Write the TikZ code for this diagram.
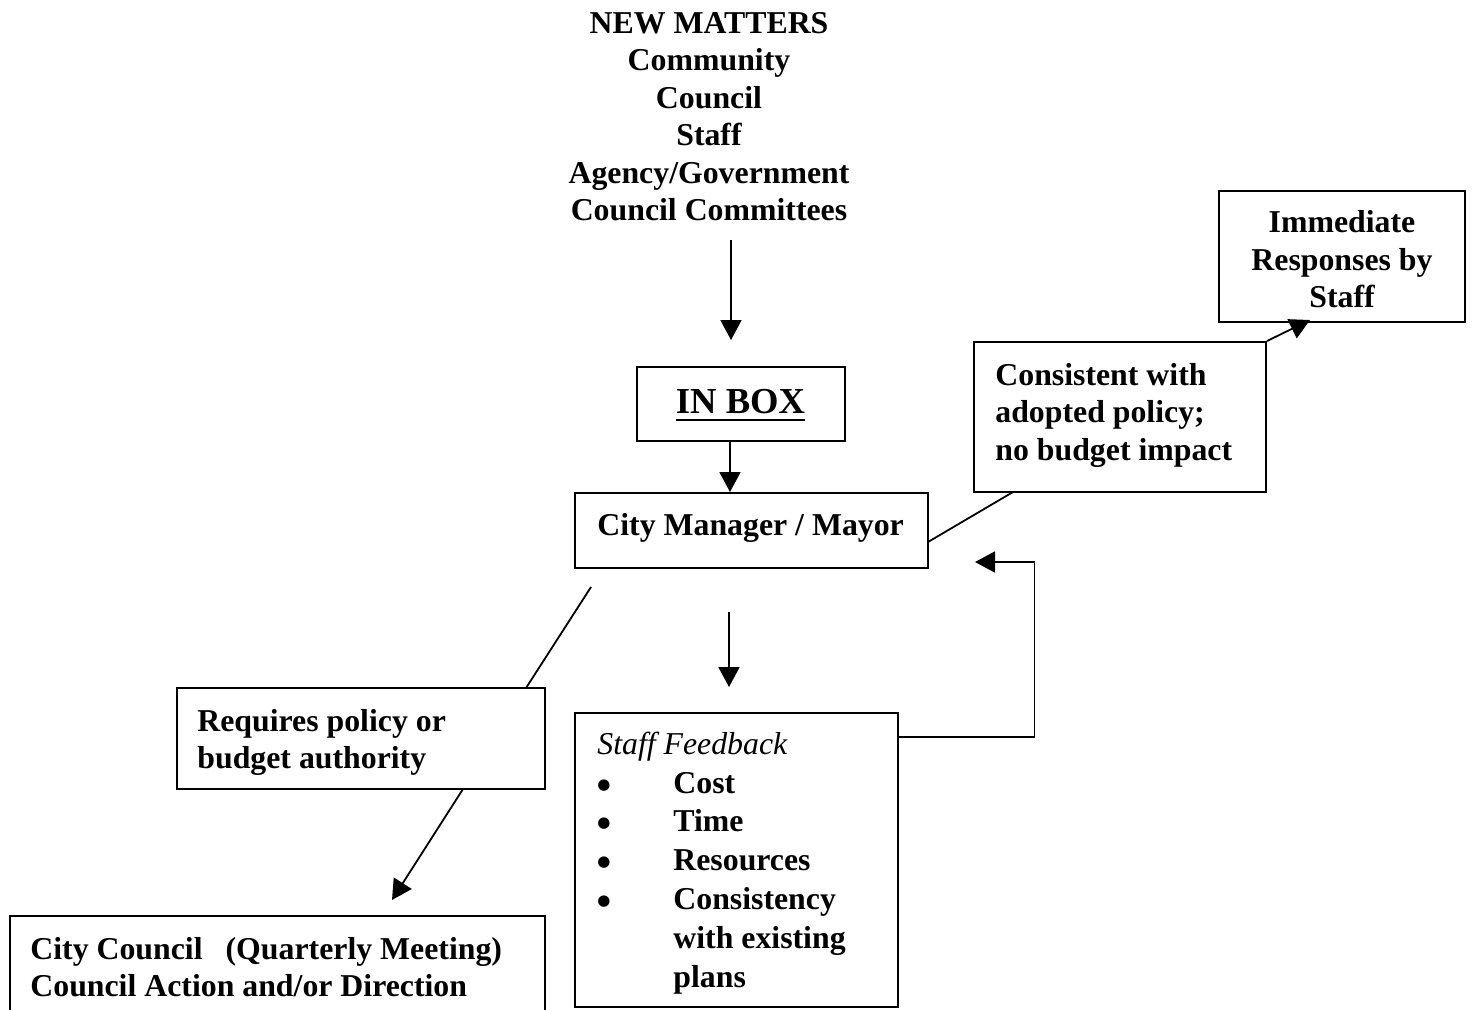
\documentclass[tikz,border=0pt]{standalone}
\usepackage{fontspec}
\setmainfont{Liberation Serif}
\newfontfamily\symfont{DejaVu Sans}
\newcommand{\blt}{\makebox[38pt][l]{\raisebox{2pt}{\fontsize{7.5}{8}\selectfont\symfont ●}}}
\usetikzlibrary{arrows.meta,fit}
\begin{document}
\begin{tikzpicture}[x=0.5pt,y=-0.5pt,
  box/.style={draw, line width=1pt, inner sep=0pt},
  txt/.style={inner sep=0pt, font=\fontsize{15.9}{18.7}\selectfont\bfseries},
  conn/.style={line width=0.9pt},
  arr/.style={conn, -{Triangle[length=10pt,width=10.5pt]}}]
\clip (0,0) rectangle (1473,1009);
\fill[white] (0,0) rectangle (1473,1009);

% ---- boxes ----
\node[box, fit={(1219,191) (1465,322)}] (imm) {};
\node[box, fit={(974,342) (1266,492)}] (con) {};
\node[box, fit={(637,367) (845,441)}] (inb) {};
\node[box, fit={(575,493) (928,568)}] (cm) {};
\node[box, fit={(177,688) (545,789)}] (req) {};
\node[box, fit={(10,916) (545,1100)}] (cc) {};
\node[box, fit={(575,713) (898,1007)}] (sf) {};

% ---- texts ----
\node[txt, anchor=north, align=center] (nm) at (709,12)
  {NEW MATTERS\\Community\\Council\\Staff\\Agency/Government\\Council Committees};
\node[txt, anchor=north, align=center] (immt) at (1342,210.5)
  {Immediate\\Responses by\\Staff};
\node[txt, anchor=north west, align=left] (cont) at (995,363)
  {Consistent with\\adopted policy;\\no budget impact};
\node[txt, anchor=base, font=\fontsize{18.3}{22}\selectfont\bfseries] (inbt) at (740.5,413.3) {IN BOX};
\draw[line width=1pt] ([yshift=-3.3pt]inbt.base west) -- ([yshift=-3.3pt]inbt.base east);
\node[txt, anchor=base west] (cmt) at (597,535.5) {City Manager / Mayor};
\node[txt, anchor=north west, align=left] (reqt) at (197,709)
  {Requires policy or\\budget authority};
\node[txt, anchor=north west, align=left] (cct) at (30,937)
  {City Council\hspace{11.5pt}(Quarterly Meeting)\\Council Action and/or Direction};
\node[txt, anchor=north west, align=left, font=\fontsize{15.9}{19.4}\selectfont] (sft) at (597,731.5)
  {\textit{Staff Feedback}\\
   \blt\textbf{Cost}\\
   \blt\textbf{Time}\\
   \blt\textbf{Resources}\\
   \blt\textbf{Consistency}\\
   \hspace*{38pt}\textbf{with existing}\\
   \hspace*{38pt}\textbf{plans}};

% ---- connector end points ----
\coordinate (a1s) at (731,240);
\coordinate (a1e) at (731,340);
\coordinate (cx) at (730,0);
\coordinate (cmr) at (928,542);
\coordinate (conb) at (1013,492);
\coordinate (immb) at (1310,320);
\coordinate (a2s) at (729,612);
\coordinate (a2e) at (729,687);
\coordinate (fbs) at (898,737);
\coordinate (fbc) at (1034.5,562);
\coordinate (fbe) at (975,562);
\coordinate (rqs) at (591,587);
\coordinate (rqe) at (526,688);
\coordinate (ccs) at (463,789);
\coordinate (cce) at (392,900);

% ---- connectors ----
\draw[arr] (a1s) -- (a1e);
\draw[arr] (inb.south -| cx) -- (cm.north -| cx);
\draw[conn] (cmr) -- (conb);
\draw[arr] (con.north east) -- (immb);
\draw[arr] (a2s) -- (a2e);
\draw[arr] (fbs) -| (fbc) -- (fbe);
\draw[conn] (rqs) -- (rqe);
\draw[arr] (ccs) -- (cce);
\end{tikzpicture}
\end{document}
